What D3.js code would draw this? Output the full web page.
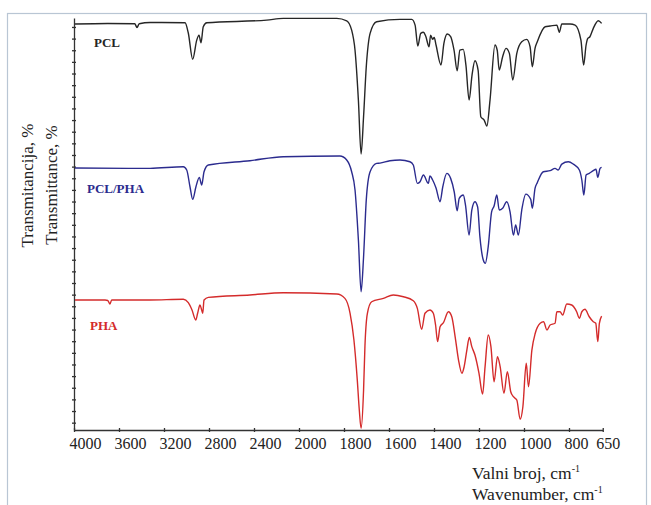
<!DOCTYPE html>
<html><head><meta charset="utf-8">
<script src="https://cdn.jsdelivr.net/npm/d3@7"></script>
<style>
html,body{margin:0;padding:0;background:#fff;}
svg{display:block;}
</style></head>
<body>
<svg id="chart" width="651" height="505"></svg>
<script>
// ---- data (wavenumber cm-1, transmittance in arbitrary offset units) ----
const xTickValues = [4000,3600,3200,2800,2400,2000,1800,1600,1400,1200,1000,800,650];
const seriesNames = ["PCL","PCL/PHA","PHA"];
const seriesColors = ["#262626","#2b2b8e","#d42b2b"];

const pclData = [[3991,35.25],[3700,35.3],[3460,35.28],[3440,34.95],[3420,35.28],[3324,35.38],[3013,35.36],[2984,34.48],[2945,32.22],[2909,33.87],[2889,34.3],[2871,33.64],[2851,35.02],[2820,35.36],[2287,35.59],[2140,35.74],[1832,35.74],[1788,35.53],[1766,34.73],[1751,33.0],[1736,28.7],[1724,24.08],[1713,27.3],[1701,31.58],[1684,34.45],[1655,35.45],[1551,35.65],[1499,35.65],[1484,35.16],[1472,33.36],[1459,34.45],[1447,34.54],[1437,34.22],[1422,33.3],[1415,34.3],[1406,33.93],[1399,34.1],[1391,33.45],[1369,31.73],[1356,33.59],[1341,34.39],[1326,34.16],[1311,33.0],[1297,31.24],[1285,33.0],[1270,33.07],[1258,31.7],[1244,28.72],[1231,30.87],[1218,32.1],[1204,31.3],[1192,27.29],[1177,27.0],[1165,26.49],[1151,28.72],[1129,33.45],[1119,33.0],[1110,31.3],[1095,32.44],[1080,33.16],[1065,32.73],[1050,30.44],[1032,32.73],[1010,33.73],[988,33.93],[973,33.3],[963,31.58],[951,33.16],[941,33.73],[906,35.02],[884,35.08],[854,35.16],[843,34.54],[832,35.25],[795,35.25],[773,35.16],[747,33.87],[735,31.73],[724,33.45],[717,34.0],[707,34.16],[692,34.88],[670,35.53],[655,35.31]];

const blendData = [[3991,22.88],[3324,22.85],[3028,22.99],[2998,22.71],[2969,21.27],[2945,20.19],[2916,21.27],[2886,22.08],[2865,21.42],[2844,22.56],[2806,23.14],[2436,23.51],[2140,23.85],[1818,23.91],[1788,23.57],[1766,22.56],[1751,20.99],[1736,16.69],[1724,12.25],[1713,15.26],[1701,20.14],[1684,22.56],[1655,23.28],[1640,23.3],[1596,23.51],[1551,23.57],[1507,23.42],[1492,23.14],[1474,21.56],[1462,21.7],[1447,22.28],[1425,21.56],[1418,22.19],[1406,21.85],[1391,21.16],[1373,19.98],[1361,21.27],[1343,22.42],[1326,21.99],[1310,20.82],[1297,19.21],[1288,20.27],[1270,20.56],[1260,19.7],[1244,17.12],[1232,19.27],[1218,19.98],[1206,19.53],[1196,16.98],[1181,14.97],[1172,14.69],[1159,16.12],[1144,19.12],[1133,19.61],[1121,20.56],[1110,19.27],[1095,19.42],[1077,19.98],[1062,19.12],[1047,17.12],[1037,17.98],[1025,17.12],[1010,19.27],[992,20.64],[970,20.19],[963,19.42],[951,21.13],[941,21.62],[914,22.56],[884,22.65],[862,22.85],[848,22.71],[832,23.22],[803,23.42],[781,23.22],[754,22.71],[743,21.85],[734,20.56],[724,22.28],[710,22.42],[692,22.65],[680,22.77],[672,22.08],[662,22.85],[655,22.94]];

const phaData = [[3991,11.54],[3724,11.54],[3700,11.5],[3680,11.2],[3665,11.55],[3324,11.54],[3028,11.6],[2984,11.31],[2951,10.68],[2918,9.82],[2901,10.4],[2880,11.11],[2865,10.68],[2856,10.4],[2844,11.54],[2806,11.77],[2436,11.97],[2140,12.16],[1832,12.05],[1796,11.68],[1773,10.4],[1756,8.12],[1741,4.68],[1732,2.09],[1724,0.52],[1713,3.81],[1707,7.53],[1696,10.4],[1677,11.39],[1625,11.68],[1581,11.97],[1536,11.82],[1492,11.48],[1474,10.82],[1455,9.02],[1440,10.4],[1418,10.68],[1403,10.4],[1393,9.39],[1384,7.96],[1373,9.24],[1358,9.59],[1336,10.53],[1321,10.1],[1306,8.38],[1291,6.38],[1276,5.24],[1266,5.81],[1254,7.24],[1243,8.33],[1232,7.53],[1218,6.81],[1200,5.24],[1184,3.46],[1173,5.81],[1159,8.53],[1147,7.53],[1133,4.52],[1118,6.67],[1106,5.81],[1089,3.52],[1074,5.38],[1059,3.66],[1047,3.23],[1032,2.95],[1017,1.29],[1005,2.37],[990,6.1],[980,4.09],[965,7.24],[950,8.68],[928,9.54],[913,9.67],[898,8.96],[884,9.39],[862,9.54],[854,10.53],[840,10.53],[828,10.25],[810,11.19],[788,11.11],[766,10.53],[754,9.97],[743,10.53],[729,10.74],[710,10.1],[692,9.67],[681,9.54],[672,7.96],[665,9.54],[655,10.16]];

const allSeries = [pclData, blendData, phaData];
const yTickValues = d3.range(1, 36, 1);

// ---- drawing ----
const svg = d3.select("#chart");
const serif = "'Liberation Serif','Times New Roman',serif";

// outer frame
svg.append("rect").attr("x",7.5).attr("y",13.5).attr("width",639).attr("height",500)
  .attr("fill","none").attr("stroke","#b9c6d4").attr("stroke-width",1.2);

const x = d3.scaleLinear().domain([4000, 2000, 650]).range([74, 299, 602.75]);
const y = d3.scaleLinear().domain([0.37, 35.77]).range([430, 18]);

// x axis
const xAxis = svg.append("g").attr("transform","translate(0,430)")
  .call(d3.axisBottom(x).tickValues(xTickValues).tickSize(2).tickSizeOuter(0).tickFormat(d3.format("d")));
xAxis.select(".domain").attr("stroke","#333").attr("stroke-width",1.3);
xAxis.selectAll(".tick line").attr("y1",-2).attr("y2",2).attr("stroke","#333").attr("stroke-width",1.3);
const labelShift = {800:7, 650:5};
xAxis.selectAll(".tick text")
  .attr("font-family", serif).attr("font-size", 16).attr("fill","#222")
  .attr("y", 19).attr("dy", 0)
  .attr("dx", d => (labelShift[d] !== undefined ? labelShift[d] : 11));

// y axis
const yAxis = svg.append("g").attr("transform","translate(74,0)")
  .call(d3.axisLeft(y).tickValues(yTickValues).tickSize(2).tickSizeOuter(0).tickFormat(""));
yAxis.select(".domain").attr("stroke","#333").attr("stroke-width",1.3);
yAxis.selectAll(".tick line").attr("x1",-2).attr("x2",2).attr("stroke","#333").attr("stroke-width",1.3);

// spectra
const line = d3.line().x(d => x(d[0])).y(d => y(d[1])).curve(d3.curveMonotoneX);
allSeries.forEach((s, i) => {
  svg.append("path").datum(s).attr("d", line)
    .attr("fill","none").attr("stroke", seriesColors[i]).attr("stroke-width",1.4)
    .attr("stroke-linejoin","round");
});

// series labels
const labelPos = [[94,46.5],[87,192.5],[90,329.5]];
seriesNames.forEach((n, i) => {
  svg.append("text").attr("x", labelPos[i][0]).attr("y", labelPos[i][1])
    .attr("font-family", serif).attr("font-weight","bold").attr("font-size",13)
    .attr("fill", seriesColors[i]).text(n);
});

// axis titles
function titleWithSup(sel, main) {
  sel.append("tspan").text(main);
  sel.append("tspan").attr("font-size", 10).attr("dy", -7).text("-1");
}
titleWithSup(svg.append("text").attr("x",472).attr("y",479)
  .attr("font-family",serif).attr("font-size",17.5).attr("fill","#222"), "Valni broj, cm");
titleWithSup(svg.append("text").attr("x",472).attr("y",500)
  .attr("font-family",serif).attr("font-size",17.5).attr("fill","#222"), "Wavenumber, cm");

svg.append("text").attr("transform","translate(33,185.5) rotate(-90)").attr("text-anchor","middle")
  .attr("font-family",serif).attr("font-size",17).attr("fill","#222").text("Transmitancija, %");
svg.append("text").attr("transform","translate(57,185) rotate(-90)").attr("text-anchor","middle")
  .attr("font-family",serif).attr("font-size",17).attr("fill","#222").text("Transmittance, %");
</script>
</body></html>
